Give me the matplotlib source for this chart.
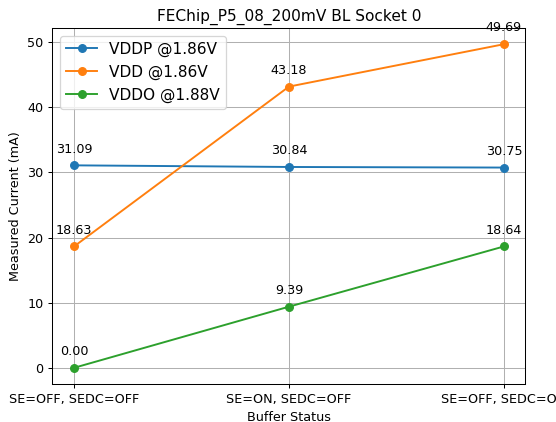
import matplotlib
matplotlib.use('Agg')
import matplotlib.pyplot as plt

buffer_status = ['SE=OFF, SEDC=OFF', 'SE=ON, SEDC=OFF', 'SE=OFF, SEDC=ON']
vddp = [31.09, 30.84, 30.75]
vdd = [18.63, 43.18, 49.69]
vddo = [0.00, 9.39, 18.64]
labels = ['VDDP @1.86V', 'VDD @1.86V', 'VDDO @1.88V']

dpi = 92
fig = plt.figure(figsize=(556 / dpi, 422 / dpi), dpi=dpi)
fig.subplots_adjust(left=0.0944, right=0.945, bottom=0.090, top=0.9336)
ax = fig.gca()

x = list(range(len(buffer_status)))
for series, label in zip([vddp, vdd, vddo], labels):
    ax.plot(x, series, marker='o', label=label)
    for xi, yi in zip(x, series):
        ax.annotate(f'{yi:.2f}', (xi, yi), textcoords='offset points',
                    xytext=(0, 10), ha='center')

ax.set_xticks(x)
ax.set_xticklabels(buffer_status)
ax.set_xlabel('Buffer Status')
ax.set_ylabel('Measured Current (mA)')
ax.set_title('FEChip_P5_08_200mV BL Socket 0')
ax.grid(True)
ax.legend(loc='upper left', fontsize=12)

fig.savefig('out.png', dpi=dpi)
